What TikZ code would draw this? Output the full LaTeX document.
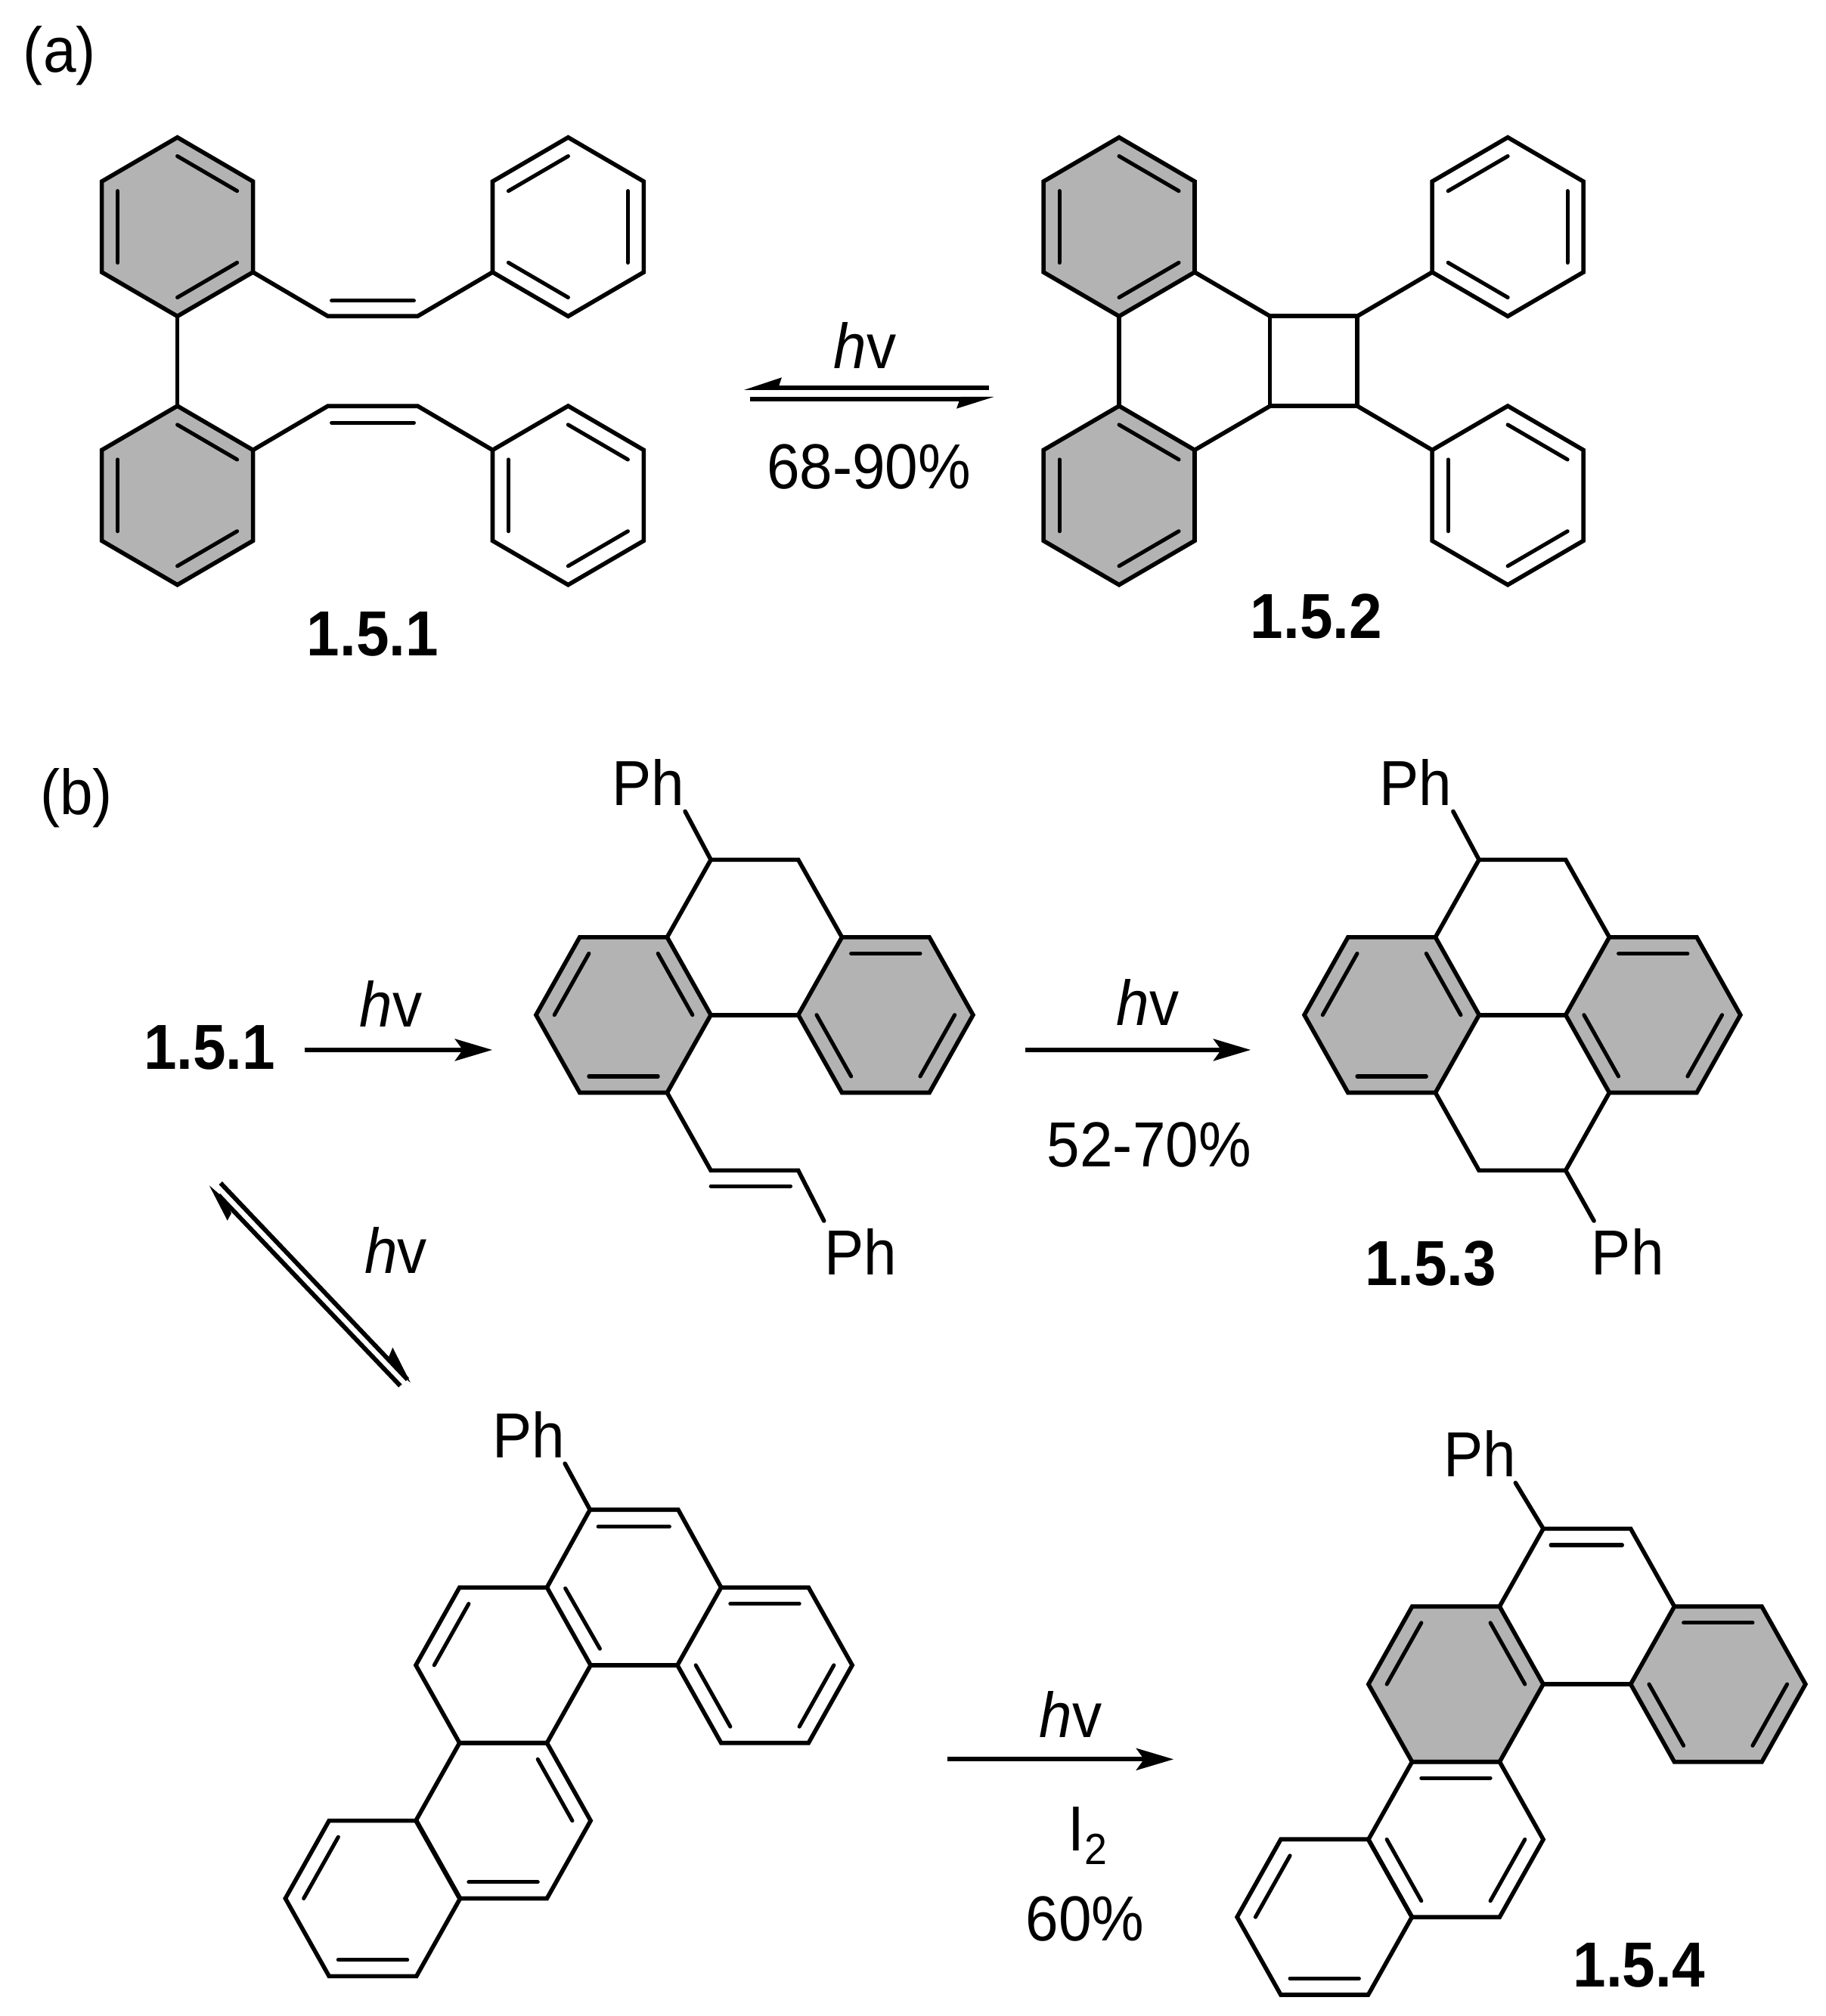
\documentclass[tikz,border=0pt]{standalone}
\usepackage{fontspec}
\setmainfont[FakeStretch=0.93]{Liberation Sans}
\usetikzlibrary{calc,arrows.meta}
\definecolor{ringgray}{HTML}{B3B3B3}
\tikzset{
  bond/.style={line width=3.3pt,line join=miter,line cap=round},
  innerbond/.style={line width=3pt,line cap=round},
  shaded/.style={fill=ringgray},
  plain/.style={},
  lab/.style={inner sep=0pt,anchor=base,font=\fontsize{49.5}{52}\selectfont},
  labw/.style={inner sep=0pt,anchor=base west,font=\fontsize{49.5}{52}\selectfont},
  boldlab/.style={inner sep=0pt,anchor=base,font=\fontsize{49.5}{52}\selectfont\bfseries},
  rxn/.style={line width=3.4pt,-{Stealth[length=29pt,width=17pt,inset=6pt]}},
  eqline/.style={line width=3.5pt},
  halfhead/.style={fill=black,draw=none}
}
\newcommand{\drawring}[3]{% name, style, inner edges
  \path[bond,draw,#2] (#1-1)--(#1-2)--(#1-3)--(#1-4)--(#1-5)--(#1-6)--cycle;
  \foreach \e in {#3}{
    \pgfmathtruncatemacro{\f}{mod(\e,6)+1}
    \draw[innerbond] ($(#1)!0.79!(#1-\e)$) -- ($(#1)!0.79!(#1-\f)$);
  }
}
% vertices 1 top,2 UR,3 LR,4 bottom,5 LL,6 UL
\newcommand{\pointyring}[5]{%
  \coordinate (#1) at (#3,#4);
  \coordinate (#1-1) at (#3,#4-69.6);
  \coordinate (#1-2) at (#3+58.8,#4-35.3);
  \coordinate (#1-3) at (#3+58.8,#4+35.3);
  \coordinate (#1-4) at (#3,#4+69.6);
  \coordinate (#1-5) at (#3-58.8,#4+35.3);
  \coordinate (#1-6) at (#3-58.8,#4-35.3);
  \drawring{#1}{#2}{#5}
}
% vertices 1 UL,2 UR,3 R,4 LR,5 LL,6 L
\newcommand{\flatring}[5]{%
  \coordinate (#1) at (#3,#4);
  \coordinate (#1-1) at (#3-34,#4-60.5);
  \coordinate (#1-2) at (#3+34,#4-60.5);
  \coordinate (#1-3) at (#3+68,#4);
  \coordinate (#1-4) at (#3+34,#4+60.5);
  \coordinate (#1-5) at (#3-34,#4+60.5);
  \coordinate (#1-6) at (#3-68,#4);
  \drawring{#1}{#2}{#5}
}
\begin{document}
\begin{tikzpicture}[x=1pt,y=-1pt]
\useasboundingbox (0,0) rectangle (1420,1568.8);

% ---------- (a) ----------
\node[labw] (la) at (18,56) {(a)};
\pointyring{a1}{shaded}{138}{176.5}{1,3,5}
\pointyring{a2}{shaded}{138}{385.5}{1,3,5}
\pointyring{a3}{plain}{442}{176.5}{6,2,4}
\pointyring{a4}{plain}{442}{385.5}{1,5,3}
\draw[bond] (a1-4)--(a2-1);
\coordinate (v1) at (255,246); \coordinate (v2) at (325,246);
\coordinate (v3) at (255,316); \coordinate (v4) at (325,316);
\draw[bond] (a1-3)--(v1)--(v2)--(a3-5);
\draw[bond] (a2-2)--(v3)--(v4)--(a4-6);
\draw[innerbond] (258,234)--(322,234);
\draw[innerbond] (258,329)--(322,329);
\node[boldlab] (n151) at (290,510) {1.5.1};

\pointyring{b1}{shaded}{870.6}{176.5}{1,3,5}
\pointyring{b2}{shaded}{870.6}{385.5}{1,3,5}
\pointyring{b3}{plain}{1173}{176.5}{6,2,4}
\pointyring{b4}{plain}{1173}{385.5}{1,5,3}
\draw[bond] (b1-4)--(b2-1);
\coordinate (s1) at (988,246); \coordinate (s2) at (1056,246);
\coordinate (s3) at (1056,316); \coordinate (s4) at (988,316);
\draw[bond] (s1)--(s2)--(s3)--(s4)--cycle;
\draw[bond] (b1-3)--(s1); \draw[bond] (s2)--(b3-5);
\draw[bond] (b2-2)--(s4); \draw[bond] (s3)--(b4-6);
\node[boldlab] (n152) at (1024,497) {1.5.2};

% equilibrium arrow
\coordinate (e1) at (604,301.8); \coordinate (e2) at (769.4,301.8);
\coordinate (e3) at (583.5,310.4); \coordinate (e4) at (748,310.4);
\draw[eqline] (e1)--(e2);
\draw[eqline] (e3)--(e4);
\fill[halfhead] (578.8,303.5)--(608.2,293.7)--(604.9,303.5)--cycle;
\fill[halfhead] (773.5,308.7)--(744.1,318)--(747.5,308.7)--cycle;
\node[lab] (hv1) at (673,287) {\textit{h}v};
\node[lab] (y1) at (676,380) {68-90\%};

% ---------- (b) ----------
\node[labw] (lb) at (31,634) {(b)};
\node[boldlab] (n151b) at (163,832) {1.5.1};
\coordinate (r1s) at (237,817); \coordinate (r1e) at (383,817);
\draw[rxn] (r1s)--(r1e);
\node[lab] (hv2) at (304,799) {\textit{h}v};

% intermediate
\flatring{c1}{shaded}{485}{789.8}{6,2,4}
\flatring{c2}{shaded}{689}{789.8}{1,3,5}
\draw[bond] (c1-3)--(c2-6);
\coordinate (c3) at (553,669); \coordinate (c4) at (621,669);
\coordinate (c5) at (553,910.8); \coordinate (c6) at (621,910.8);
\coordinate (c7) at (533,631.4); \coordinate (c8) at (641,950);
\draw[bond] (c7)--(c3)--(c1-2); \draw[bond] (c3)--(c4)--(c2-1);
\draw[bond] (c1-4)--(c5)--(c6)--(c8);
\draw[innerbond] (553,923)--(615,923);
\node[labw] (ph1) at (476,627) {Ph};
\node[labw] (ph2) at (641,992) {Ph};

\coordinate (r2s) at (797.4,817); \coordinate (r2e) at (973,817);
\draw[rxn] (r2s)--(r2e);
\node[lab] (hv3) at (893,798) {\textit{h}v};
\node[lab] (y2) at (894,908) {52-70\%};

% 1.5.3
\flatring{d1}{shaded}{1082.7}{789.8}{6,2,4}
\flatring{d2}{shaded}{1286}{789.8}{1,3,5}
\draw[bond] (d1-3)--(d2-6);
\coordinate (d3) at (1150.6,669); \coordinate (d4) at (1218,669);
\coordinate (d5) at (1150.6,910.8); \coordinate (d6) at (1218,910.8);
\coordinate (d7) at (1130.5,631.4); \coordinate (d8) at (1240,950);
\draw[bond] (d7)--(d3)--(d1-2); \draw[bond] (d3)--(d4)--(d2-1);
\draw[bond] (d1-4)--(d5)--(d6)--(d2-5); \draw[bond] (d6)--(d8);
\node[labw] (ph3) at (1073,627) {Ph};
\node[labw] (ph4) at (1238,992) {Ph};
\node[boldlab] (n153) at (1113,1000.4) {1.5.3};

% diagonal equilibrium
\coordinate (g1) at (171.6,920.6); \coordinate (g2) at (317,1073.5);
\coordinate (g3) at (170,930); \coordinate (g4) at (311.4,1078.4);
\draw[eqline] (g1)--(g2);
\draw[eqline] (g3)--(g4);
\fill[halfhead] (162.8,922.5)--(176.9,949.8)--(180,944.1)--(175,933)--cycle;
\fill[halfhead] (319.4,1076)--(305.5,1048.6)--(302,1056.9)--(310,1068)--cycle;
\node[lab] (hv4) at (308,991) {\textit{h}v};

% lower left polycycle
\flatring{e1r}{plain}{595}{1295.8}{1,3,5}
\coordinate (t1) at (459,1174.8); \coordinate (t2) at (527.6,1174.8);
\flatring{e2r}{plain}{391.5}{1295.8}{6}
\flatring{e3r}{plain}{391.5}{1416.8}{2,4}
\flatring{e4r}{plain}{290}{1477.3}{6,4}
\draw[bond] (t1)--(t2)--(e1r-1);
\draw[bond] (t1)--(e2r-2);
\draw[bond] (e2r-3)--(e1r-6);
\coordinate (t3) at (439.5,1138.9);
\draw[bond] (t3)--(t1);
\draw[innerbond] (465.4,1188)--(520.8,1188);
\draw[innerbond] (439.8,1236)--(466.7,1283);
\node[labw] (ph5) at (383,1134.3) {Ph};

\coordinate (r3s) at (737,1369); \coordinate (r3e) at (913,1369);
\draw[rxn] (r3s)--(r3e);
\node[lab] (hv5) at (833,1352) {\textit{h}v};
\node[lab] (i2) at (846,1440) {I\raisebox{-11pt}{\fontsize{34}{36}\selectfont 2}};
\node[lab] (y3) at (844,1510) {60\%};

% 1.5.4
\flatring{f1}{shaded}{1132.6}{1310.6}{6,2}
\flatring{f2}{shaded}{1336.6}{1310.6}{1,3,5}
\flatring{f3}{plain}{1132.6}{1431.4}{1,5,3}
\flatring{f4}{plain}{1030.4}{1491.8}{6,4}
\draw[bond] (f1-3)--(f2-6);
\coordinate (u1) at (1200.6,1189.6); \coordinate (u2) at (1268.6,1189.6);
\coordinate (u3) at (1179,1153.9);
\draw[bond] (u3)--(u1)--(u2)--(f2-1);
\draw[bond] (u1)--(f1-2);
\draw[innerbond] (1206.5,1202.3)--(1262,1202.3);
\node[labw] (ph6) at (1123,1149.3) {Ph};
\node[boldlab] (n154) at (1275,1546) {1.5.4};
\end{tikzpicture}
\end{document}
